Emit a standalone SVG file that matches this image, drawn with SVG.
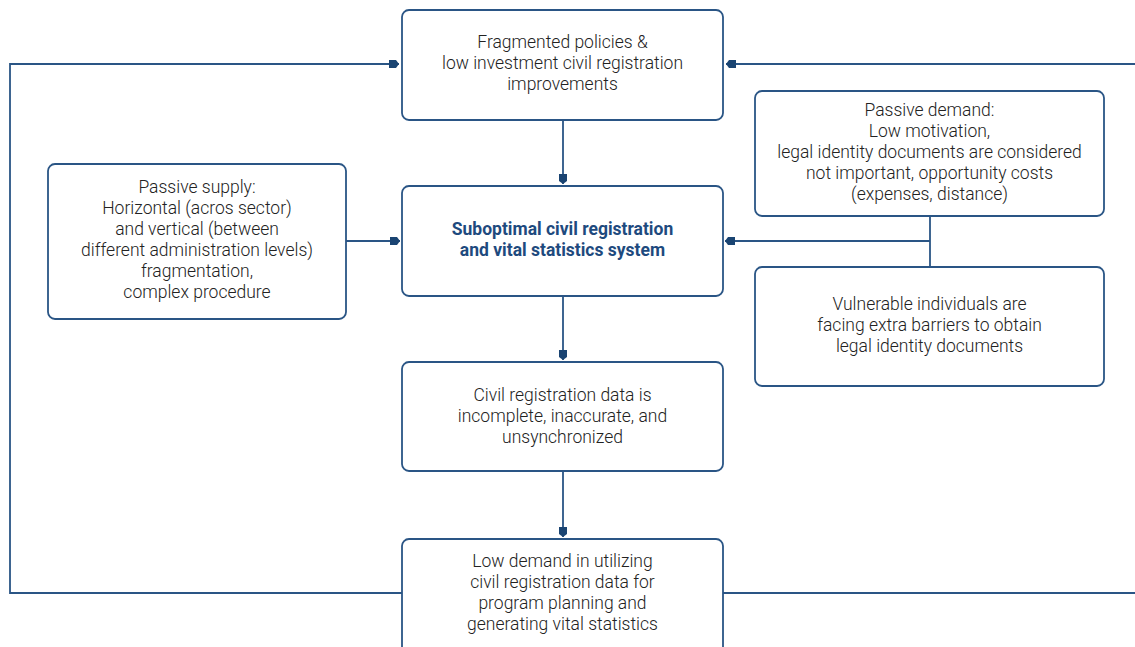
<svg xmlns="http://www.w3.org/2000/svg" width="1135" height="647" viewBox="0 0 1135 647">
<style>
.box{fill:#ffffff;stroke:#2a5585;stroke-width:1.8}
.t{font-family:Roboto,"Liberation Sans",sans-serif;font-weight:300;font-size:17.5px;fill:#222222;text-anchor:middle}
.b{font-family:Roboto,"Liberation Sans",sans-serif;font-weight:700;font-size:17.5px;fill:#1e4a7e;text-anchor:middle}
.c{fill:none;stroke:#2a5585;stroke-width:1.8}
</style>
<defs>
<marker id="ah" markerWidth="12" markerHeight="10" refX="10" refY="4" orient="auto" markerUnits="userSpaceOnUse">
<path d="M0,0 L7,0 L10,4 L7,8 L0,8 Z" fill="#1a4472"/>
</marker>
</defs>
<rect width="1135" height="647" fill="#ffffff"/>
<g id="connectors">
<path class="c" d="M563,120 V184" marker-end="url(#ah)"/>
<path class="c" d="M563,296 V360" marker-end="url(#ah)"/>
<path class="c" d="M563,471 V537" marker-end="url(#ah)"/>
<path class="c" d="M346,241 H400" marker-end="url(#ah)"/>
<path class="c" d="M930,216 V267"/>
<path class="c" d="M930,241 H725" marker-end="url(#ah)"/>
<path class="c" d="M402,593 H10 V64 H399" marker-end="url(#ah)"/>
<path class="c" d="M723,593 H1136"/>
<path class="c" d="M1136,64 H726" marker-end="url(#ah)"/>
</g>
<g id="n_policies">
<rect class="box" x="402" y="10" width="321" height="110" rx="7"/>
<text class="t" x="562.5" y="48">Fragmented policies &amp;</text>
<text class="t" x="562.5" y="69">low investment civil registration</text>
<text class="t" x="562.5" y="90">improvements</text>
</g>
<g id="n_supply">
<rect class="box" x="48" y="164" width="298" height="155" rx="7"/>
<text class="t" x="197" y="193">Passive supply:</text>
<text class="t" x="197" y="214">Horizontal (acros sector)</text>
<text class="t" x="197" y="235">and vertical (between</text>
<text class="t" x="197" y="256">different administration levels)</text>
<text class="t" x="197" y="277">fragmentation,</text>
<text class="t" x="197" y="298">complex procedure</text>
</g>
<g id="n_system">
<rect class="box" x="402" y="186" width="321" height="110" rx="7"/>
<text class="b" x="562.5" y="235">Suboptimal civil registration</text>
<text class="b" x="562.5" y="256">and vital statistics system</text>
</g>
<g id="n_demand">
<rect class="box" x="755" y="91" width="349" height="125" rx="7"/>
<text class="t" x="929.5" y="116">Passive demand:</text>
<text class="t" x="929.5" y="137">Low motivation,</text>
<text class="t" x="929.5" y="158">legal identity documents are considered</text>
<text class="t" x="929.5" y="179">not important, opportunity costs</text>
<text class="t" x="929.5" y="200">(expenses, distance)</text>
</g>
<g id="n_vulnerable">
<rect class="box" x="755" y="267" width="349" height="119" rx="7"/>
<text class="t" x="929.5" y="310">Vulnerable individuals are</text>
<text class="t" x="929.5" y="331">facing extra barriers to obtain</text>
<text class="t" x="929.5" y="352">legal identity documents</text>
</g>
<g id="n_data">
<rect class="box" x="402" y="362" width="321" height="109" rx="7"/>
<text class="t" x="562.5" y="401">Civil registration data is</text>
<text class="t" x="562.5" y="422">incomplete, inaccurate, and</text>
<text class="t" x="562.5" y="443">unsynchronized</text>
</g>
<g id="n_lowdemand">
<rect class="box" x="402" y="539" width="321" height="120" rx="7"/>
<text class="t" x="562.5" y="567">Low demand in utilizing</text>
<text class="t" x="562.5" y="588">civil registration data for</text>
<text class="t" x="562.5" y="609">program planning and</text>
<text class="t" x="562.5" y="630">generating vital statistics</text>
</g>
</svg>
